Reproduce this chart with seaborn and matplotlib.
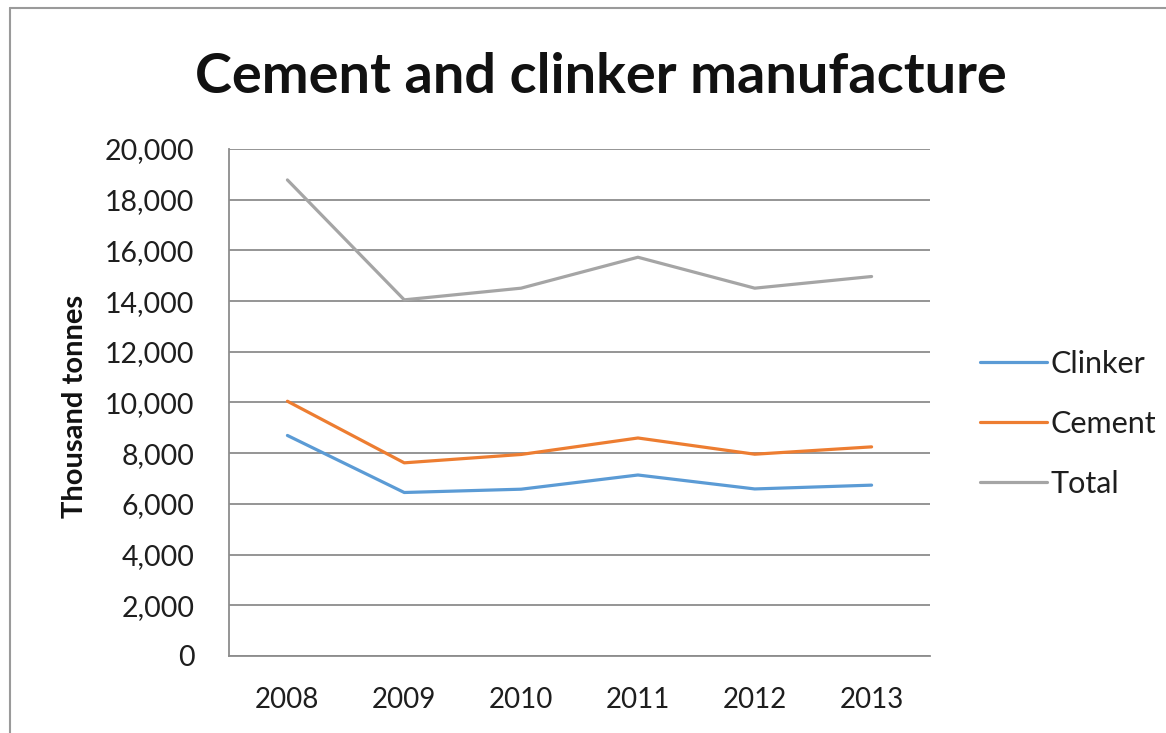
import matplotlib
matplotlib.use("Agg")
import matplotlib.pyplot as plt
from matplotlib.lines import Line2D
import seaborn as sns
import pandas as pd

# Annual production, thousand tonnes
years = ["2008", "2009", "2010", "2011", "2012", "2013"]
clinker = [8700, 6450, 6580, 7140, 6590, 6740]
cement = [10050, 7620, 7950, 8600, 7960, 8250]
total = [18780, 14050, 14510, 15730, 14510, 14970]
series_names = ["Clinker", "Cement", "Total"]
series_colors = ["#5B9BD5", "#ED7D31", "#A5A5A5"]
y_ticks = list(range(0, 20001, 2000))

df = pd.DataFrame({
    "Year": years * 3,
    "Value": clinker + cement + total,
    "Series": [n for n in series_names for _ in years],
})

sns.set_theme(style="white")
plt.rcParams["font.family"] = ["Lato", "DejaVu Sans"]

W, H = 1166, 733
fig = plt.figure(figsize=(W / 100, H / 100), dpi=100)
ax = fig.add_axes([229 / W, 1 - 656 / H, (930 - 229) / W, (656 - 149) / H])

sns.lineplot(data=df, x="Year", y="Value", hue="Series", hue_order=series_names,
             palette=series_colors, linewidth=2.3, sort=False, ax=ax, legend=False)

ax.set_xlim(-0.5, len(years) - 0.5)
ax.set_ylim(0, 20000)
ax.set_yticks(y_ticks)
ax.set_yticklabels([f"{v:,}" for v in y_ticks], fontsize=20.5, color="#1e1e1e")
ax.set_xticks(range(len(years)))
ax.set_xticklabels(years, fontsize=20, color="#1e1e1e")
ax.tick_params(axis="y", length=0, pad=25)
ax.tick_params(axis="x", length=0, pad=22)
ax.set_xlabel("")
ax.set_ylabel("")

ax.grid(axis="y", color="#8c8c8c", linewidth=1.3)
ax.grid(axis="x", visible=False)
ax.set_axisbelow(True)
for side in ["top", "right"]:
    ax.spines[side].set_visible(False)
for side in ["left", "bottom"]:
    ax.spines[side].set_color("#8c8c8c")
    ax.spines[side].set_linewidth(1.3)

fig.text(601 / W, 1 - 93 / H, "Cement and clinker manufacture", ha="center",
         va="baseline", fontsize=40.2, fontweight="bold", color="#111111")
fig.text(75 / W, 1 - 406 / H, "Thousand tonnes", rotation=90, ha="center",
         va="center", fontsize=21, fontweight="bold", color="#111111")

handles = [Line2D([], [], color=c, linewidth=2.3) for c in series_colors]
fig.legend(handles, series_names, loc="center left",
           bbox_to_anchor=(980 / W, 1 - 424 / H), frameon=False, fontsize=22,
           handlelength=2.2, handletextpad=0.1, labelspacing=1.05,
           borderpad=0, borderaxespad=0, labelcolor="#1e1e1e")

# Outer chart frame
fig.add_artist(Line2D([10 / W, 10 / W], [0, 1 - 8 / H], color="#9a9a9a",
                      linewidth=1.5, transform=fig.transFigure))
fig.add_artist(Line2D([10 / W, 1], [1 - 8 / H, 1 - 8 / H], color="#9a9a9a",
                      linewidth=1.5, transform=fig.transFigure))

fig.savefig("out.png", dpi=100, facecolor="white")
